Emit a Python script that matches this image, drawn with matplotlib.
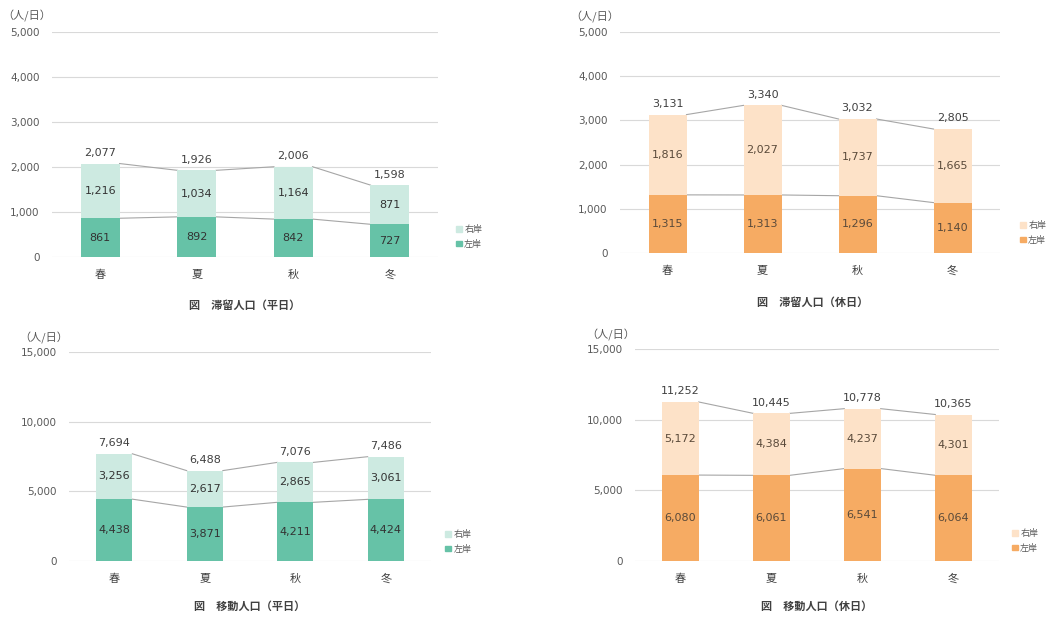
import numpy as np
import matplotlib
matplotlib.use("Agg")
import matplotlib.pyplot as plt
from matplotlib.patches import Patch

plt.rcParams['font.family'] = ['Noto Sans CJK JP', 'DejaVu Sans']

seasons = ['春', '夏', '秋', '冬']

# 滞留人口（平日）
stay_wd_left = [861, 892, 842, 727]
stay_wd_right = [1216, 1034, 1164, 871]
stay_wd_total = [2077, 1926, 2006, 1598]

# 滞留人口（休日）
stay_we_left = [1315, 1313, 1296, 1140]
stay_we_right = [1816, 2027, 1737, 1665]
stay_we_total = [3131, 3340, 3032, 2805]

# 移動人口（平日）
move_wd_left = [4438, 3871, 4211, 4424]
move_wd_right = [3256, 2617, 2865, 3061]
move_wd_total = [7694, 6488, 7076, 7486]

# 移動人口（休日）
move_we_left = [6080, 6061, 6541, 6064]
move_we_right = [5172, 4384, 4237, 4301]
move_we_total = [11252, 10445, 10778, 10365]

W, H = 1048, 617
TEAL = ('#66c2a7', '#cdeae1')
ORANGE = ('#f6ab63', '#fde2c8')


def px_rect(left, right, top, bottom):
    return [left / W, 1 - bottom / H, (right - left) / W, (bottom - top) / H]


def panel(fig, rect, left, right, total, ymax, step, colors, valcol,
          caption, cap_xy, unit_xy, leg_xy):
    ax = fig.add_axes(px_rect(*rect))
    x = np.arange(len(seasons))
    w = 0.4
    ax.bar(x, left, w, color=colors[0], zorder=3)
    ax.bar(x, right, w, bottom=left, color=colors[1], zorder=3)

    # series lines between bars
    for vals in (left, total):
        for i in range(len(x) - 1):
            ax.plot([x[i] + w / 2, x[i + 1] - w / 2], [vals[i], vals[i + 1]],
                    color='#a6a6a6', lw=0.8, zorder=2)

    for i in range(len(x)):
        ax.text(x[i], left[i] / 2, f'{left[i]:,}', ha='center', va='center',
                fontsize=8, color=valcol, zorder=4, family='DejaVu Sans')
        ax.text(x[i], left[i] + right[i] / 2, f'{right[i]:,}', ha='center',
                va='center', fontsize=8, color=valcol, zorder=4,
                family='DejaVu Sans')
        ax.annotate(f'{total[i]:,}', (x[i], total[i]), xytext=(0, 4),
                    textcoords='offset points', ha='center', va='bottom',
                    fontsize=8, color='#404040', family='DejaVu Sans')

    ax.set_xlim(-0.5, len(x) - 0.5)
    ax.set_ylim(0, ymax)
    ticks = np.arange(0, ymax + 1, step)
    ax.set_yticks(ticks)
    ax.set_yticklabels([f'{t:,}' for t in ticks], family='DejaVu Sans')
    ax.set_xticks(x)
    ax.set_xticklabels(seasons)
    ax.tick_params(axis='y', length=0, pad=9, labelsize=7.5, labelcolor='#595959')
    ax.tick_params(axis='x', length=0, pad=9, labelsize=8, labelcolor='#404040')
    ax.grid(axis='y', color='#d9d9d9', lw=0.8, zorder=0)
    for s in ax.spines.values():
        s.set_visible(False)

    fig.text(unit_xy[0] / W, 1 - unit_xy[1] / H, '（人/日）', fontsize=8,
             color='#595959', ha='left', va='center')
    fig.text(cap_xy[0] / W, 1 - cap_xy[1] / H, caption, fontsize=8,
             color='#404040', ha='center', va='center', fontweight='bold')
    handles = [Patch(color=colors[1], label='右岸'), Patch(color=colors[0], label='左岸')]
    ax.legend(handles=handles, loc='center left',
              bbox_to_anchor=(leg_xy[0] / W, 1 - leg_xy[1] / H),
              bbox_transform=fig.transFigure, frameon=False, fontsize=6.5,
              handlelength=0.6, handleheight=0.6, handletextpad=0.3,
              labelspacing=0.6, labelcolor='#595959')
    return ax


fig = plt.figure(figsize=(W / 100, H / 100), dpi=100)
fig.patch.set_facecolor('white')

panel(fig, (52, 438, 32, 257), stay_wd_left, stay_wd_right, stay_wd_total,
      5000, 1000, TEAL, '#333333', '図　滞留人口（平日）',
      (245, 305), (2, 16), (448, 237))
panel(fig, (620, 1000, 32, 253), stay_we_left, stay_we_right, stay_we_total,
      5000, 1000, ORANGE, '#5a4a3a', '図　滞留人口（休日）',
      (813, 302), (570, 17), (1012, 233))
panel(fig, (69, 431, 352, 561), move_wd_left, move_wd_right, move_wd_total,
      15000, 5000, TEAL, '#333333', '図　移動人口（平日）',
      (250, 606), (19, 338), (437, 542))
panel(fig, (635, 999, 349, 561), move_we_left, move_we_right, move_we_total,
      15000, 5000, ORANGE, '#5a4a3a', '図　移動人口（休日）',
      (817, 606), (586, 335), (1004, 541))

fig.savefig('out.png', dpi=100)
